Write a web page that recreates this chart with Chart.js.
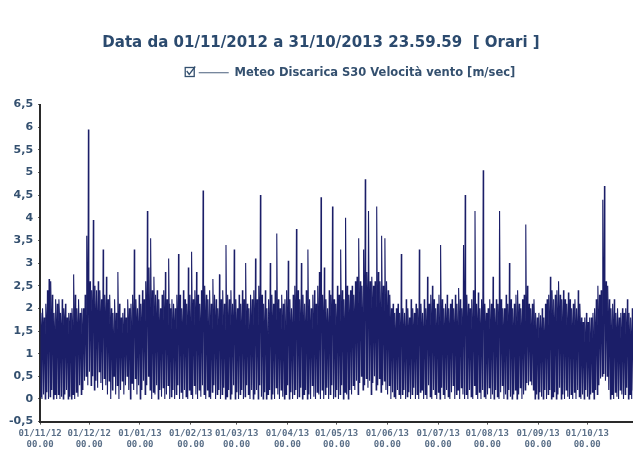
<!DOCTYPE html>
<html>
<head>
<meta charset="utf-8">
<script src="https://cdn.jsdelivr.net/npm/chart.js@4.4.1/dist/chart.umd.min.js"></script>
<style>
  html, body { margin: 0; padding: 0; background: #ffffff; overflow: hidden; }
  #wrap { width: 640px; height: 454px; position: relative; }
</style>
</head>
<body>
<div id="wrap"><canvas id="chart" width="640" height="454"></canvas></div>
<script>
// Hourly wind speed, 01/11/2012 - 31/10/2013, summarised per day (m/sec):
// daily low, daily high, and the level where the bulk of the hours sit
const dayMin = [
  0.05, 0, 0.1, 0, 0.15, 0, 0.05, 0.2, 0, 0.1,
  0, 0.1, 0, 0.05, 0, 0.1, 0.2, 0, 0.05, 0,
  0.1, 0, 0.15, 0.05, 0.3, 0.1, 0.2, 0.4, 0.5, 0.3,
  0.6, 0.3, 0.5, 0.2, 0.4, 0.25, 0.6, 0.35, 0.2, 0.45,
  0.3, 0.1, 0.4, 0, 0.2, 0.5, 0.1, 0.3, 0, 0.2,
  0.4, 0.1, 0.3, 0.5, 0.2, 0, 0.35, 0.2, 0.45, 0.1,
  0.3, 0, 0.2, 0.4, 0.1, 0.3, 0.5, 0.2, 0, 0.15,
  0.1, 0.3, 0, 0.2, 0.05, 0.25, 0, 0.1, 0.3, 0,
  0.05, 0.2, 0, 0.1, 0.3, 0, 0.15, 0, 0.2, 0.05,
  0, 0.2, 0.1, 0, 0.3, 0.1, 0, 0.2, 0.05, 0.3,
  0.1, 0, 0.2, 0.05, 0, 0.15, 0.3, 0, 0.1, 0.2,
  0, 0.1, 0.25, 0, 0.05, 0.2, 0, 0.1, 0.3, 0,
  0.15, 0, 0.1, 0.2, 0, 0.05, 0.3, 0.1, 0, 0.2,
  0, 0.1, 0.2, 0, 0.3, 0.05, 0, 0.15, 0, 0.1,
  0.2, 0, 0.1, 0, 0.25, 0.1, 0, 0.2, 0.05, 0,
  0.1, 0.3, 0, 0.15, 0, 0.1, 0.2, 0, 0.05, 0.25,
  0, 0.1, 0.2, 0, 0.1, 0, 0.3, 0.05, 0, 0.15,
  0.1, 0, 0.2, 0, 0.1, 0.25, 0, 0.1, 0.3, 0,
  0.05, 0.2, 0, 0.1, 0.3, 0, 0.15, 0.1, 0, 0.2,
  0.1, 0.3, 0.2, 0.4, 0.1, 0.35, 0.5, 0.2, 0.3, 0.45,
  0.25, 0.4, 0.1, 0.35, 0.5, 0.2, 0.3, 0.45, 0.15, 0.3,
  0.4, 0.2, 0.1, 0.3, 0, 0.15, 0.05, 0, 0.2, 0.1,
  0, 0.1, 0.2, 0, 0.05, 0.15, 0, 0.1, 0.25, 0,
  0.1, 0, 0.15, 0.2, 0, 0.1, 0, 0.3, 0.05, 0,
  0.2, 0.1, 0, 0.15, 0, 0.25, 0.1, 0, 0.2, 0.05,
  0, 0.15, 0.3, 0, 0.1, 0.2, 0, 0.25, 0.1, 0,
  0.1, 0, 0.2, 0.05, 0, 0.3, 0.1, 0, 0.15, 0,
  0.2, 0.05, 0, 0.1, 0.25, 0, 0.1, 0, 0.2, 0.05,
  0, 0.15, 0.3, 0, 0.1, 0, 0.2, 0.05, 0, 0.1,
  0.2, 0, 0.1, 0.25, 0, 0.1, 0.2, 0.35, 0.3, 0.4,
  0.3, 0.2, 0, 0.1, 0, 0.15, 0.05, 0, 0.2, 0,
  0.1, 0.2, 0, 0.05, 0.15, 0, 0.1, 0.25, 0, 0.1,
  0, 0.2, 0.05, 0, 0.1, 0, 0.15, 0, 0.2, 0.05,
  0, 0.1, 0, 0.2, 0.05, 0, 0.1, 0.15, 0, 0.2,
  0.1, 0.3, 0.45, 0.5, 0.55, 0.4, 0.5, 0.2, 0, 0.1,
  0, 0.15, 0.05, 0, 0.2, 0.1, 0, 0.1, 0.25, 0,
  0.1, 0, 0.2, 0.05, 0
];

const dayMax = [
  1.9, 2.0, 1.8, 2.1, 2.4, 2.65, 2.6, 2.3, 1.9, 2.2,
  2.1, 2.2, 1.9, 2.2, 2.0, 2.1, 1.8, 1.9, 1.9, 2.0,
  2.75, 2.3, 2.0, 2.2, 1.9, 2.0, 2.0, 2.3, 3.6, 5.95,
  2.6, 2.4, 3.95, 2.5, 2.4, 2.6, 2.4, 2.2, 3.3, 2.3,
  2.7, 2.2, 2.3, 2.0, 1.9, 2.2, 1.9, 2.8, 2.1, 1.8,
  1.9, 2.0, 1.8, 2.2, 2.0, 2.1, 2.3, 3.3, 2.2, 2.0,
  2.3, 2.1, 2.4, 2.2, 2.6, 4.15, 2.9, 3.55, 2.4, 2.7,
  2.3, 2.4, 2.2, 2.0, 2.3, 2.4, 2.8, 2.2, 3.1, 2.0,
  2.2, 2.1, 2.0, 2.3, 3.2, 2.3, 2.0, 2.4, 2.2, 2.1,
  2.9, 2.3, 3.25, 2.2, 2.4, 2.8, 2.3, 2.1, 2.4, 4.6,
  2.5, 2.3, 2.2, 2.4, 2.1, 2.65, 2.3, 2.2, 2.0, 2.75,
  2.2, 2.4, 2.1, 3.4, 2.3, 2.2, 2.4, 2.1, 3.3, 2.2,
  2.0, 2.3, 2.1, 2.4, 2.2, 3.0, 2.1, 2.0, 2.3, 2.2,
  2.4, 3.1, 2.2, 2.5, 4.5, 2.3, 2.1, 2.4, 2.0, 2.2,
  3.0, 2.3, 2.1, 2.4, 3.65, 2.2, 2.0, 2.3, 2.1, 2.2,
  2.4, 3.05, 2.2, 2.0, 2.3, 2.5, 3.75, 2.4, 2.2, 3.0,
  2.3, 2.1, 2.4, 3.3, 2.2, 2.0, 2.3, 2.4, 2.1, 2.5,
  2.8, 4.45, 2.3, 2.9, 2.2, 2.0, 2.4, 2.3, 4.25, 2.2,
  2.1, 2.5, 2.3, 3.3, 2.4, 2.2, 4.0, 2.5, 2.3, 2.4,
  2.5, 2.3, 2.6, 2.7, 3.55, 2.6, 2.5, 3.3, 4.85, 2.8,
  4.15, 2.6, 2.7, 2.5, 2.6, 4.25, 2.8, 2.6, 3.6, 2.5,
  3.55, 2.6, 2.4, 2.3, 2.0, 2.1, 1.9, 2.0, 2.1, 1.9,
  3.2, 2.0, 1.9, 2.2, 2.0, 1.8, 2.2, 2.0, 1.9, 2.1,
  2.0, 3.3, 2.1, 1.9, 2.2, 2.0, 2.7, 2.1, 2.3, 2.5,
  2.2, 2.0, 2.1, 2.3, 3.4, 2.2, 2.0, 2.1, 2.3, 2.0,
  2.1, 2.2, 2.0, 2.3, 2.1, 2.45, 2.2, 2.0, 3.4, 4.5,
  2.3, 2.1, 2.0, 2.2, 2.4, 4.15, 2.1, 2.35, 2.0, 2.2,
  5.05, 2.1, 1.9, 2.0, 2.2, 2.1, 2.7, 2.0, 2.2, 2.1,
  4.15, 2.2, 2.0, 2.0, 2.3, 2.1, 3.0, 2.2, 2.0, 2.1,
  2.3, 2.4, 2.1, 2.0, 2.2, 2.3, 3.85, 2.5, 2.1, 2.0,
  2.1, 2.2, 1.9, 1.8, 1.9, 1.85, 2.0, 1.8, 2.1, 2.2,
  2.3, 2.7, 2.4, 2.2, 2.3, 2.4, 2.6, 2.3, 2.2, 2.4,
  2.2, 2.1, 2.35, 2.2, 2.0, 2.1, 2.2, 2.0, 2.4, 2.1,
  1.8, 1.7, 1.8, 1.9, 1.7, 1.8, 1.8, 1.9, 2.0, 2.2,
  2.5, 2.3, 2.4, 4.4, 4.7, 2.6, 2.5, 2.2, 2.0, 2.1,
  2.2, 1.9, 2.0, 1.8, 1.9, 2.0, 1.9, 2.0, 2.2, 1.9,
  1.8, 2.0, 2.1, 1.9, 2.0
];

const dayCore = [
  1.6, 1.7, 1.5, 1.8, 1.9, 2.0, 1.9, 1.8, 1.6, 1.7,
  1.8, 1.9, 1.6, 1.7, 1.8, 1.6, 1.5, 1.7, 1.6, 1.7,
  1.9, 1.8, 1.6, 1.7, 1.5, 1.6, 1.7, 1.9, 2.3, 2.6,
  2.0, 1.9, 2.2, 1.9, 1.8, 2.0, 1.9, 1.8, 2.1, 1.8,
  2.0, 1.7, 1.8, 1.6, 1.5, 1.7, 1.6, 1.9, 1.7, 1.5,
  1.6, 1.7, 1.5, 1.8, 1.6, 1.7, 1.8, 2.1, 1.8, 1.6,
  1.8, 1.7, 1.9, 1.8, 2.0, 2.4, 2.1, 2.2, 1.9, 2.0,
  1.8, 1.9, 1.7, 1.6, 1.8, 1.9, 2.0, 1.7, 2.1, 1.6,
  1.7, 1.7, 1.6, 1.8, 2.0, 1.8, 1.6, 1.9, 1.7, 1.7,
  2.0, 1.8, 2.1, 1.7, 1.9, 2.0, 1.8, 1.7, 1.8, 2.3,
  1.9, 1.8, 1.7, 1.8, 1.6, 1.9, 1.8, 1.7, 1.6, 1.9,
  1.7, 1.8, 1.6, 2.0, 1.8, 1.7, 1.8, 1.6, 2.0, 1.7,
  1.6, 1.8, 1.6, 1.8, 1.7, 1.9, 1.6, 1.5, 1.8, 1.7,
  1.8, 2.0, 1.7, 1.9, 2.3, 1.8, 1.6, 1.8, 1.5, 1.7,
  2.0, 1.8, 1.6, 1.8, 2.1, 1.7, 1.6, 1.8, 1.6, 1.7,
  1.8, 2.0, 1.7, 1.6, 1.8, 1.9, 2.2, 1.8, 1.7, 2.0,
  1.8, 1.6, 1.8, 2.0, 1.7, 1.6, 1.8, 1.9, 1.7, 1.9,
  2.0, 2.4, 1.8, 2.0, 1.7, 1.6, 1.9, 1.8, 2.3, 1.7,
  1.7, 1.9, 1.8, 2.1, 1.9, 1.8, 2.3, 2.0, 1.9, 1.9,
  2.0, 1.9, 2.1, 2.2, 2.3, 2.1, 2.0, 2.2, 2.6, 2.2,
  2.4, 2.1, 2.2, 2.0, 2.1, 2.4, 2.2, 2.1, 2.3, 2.0,
  2.2, 2.0, 1.9, 1.8, 1.6, 1.7, 1.5, 1.6, 1.7, 1.5,
  2.0, 1.6, 1.5, 1.7, 1.6, 1.4, 1.7, 1.6, 1.5, 1.7,
  1.6, 2.0, 1.7, 1.5, 1.7, 1.6, 1.9, 1.7, 1.8, 1.9,
  1.7, 1.6, 1.7, 1.8, 2.0, 1.7, 1.6, 1.7, 1.8, 1.6,
  1.7, 1.8, 1.6, 1.8, 1.7, 1.9, 1.7, 1.6, 2.0, 2.3,
  1.8, 1.7, 1.6, 1.7, 1.9, 2.2, 1.7, 1.8, 1.6, 1.7,
  2.4, 1.7, 1.5, 1.6, 1.7, 1.7, 1.9, 1.6, 1.7, 1.7,
  2.2, 1.7, 1.6, 1.6, 1.8, 1.7, 1.9, 1.7, 1.6, 1.7,
  1.8, 1.9, 1.7, 1.6, 1.7, 1.8, 2.1, 1.9, 1.7, 1.6,
  1.7, 1.7, 1.5, 1.4, 1.5, 1.5, 1.6, 1.4, 1.7, 1.7,
  1.8, 2.0, 1.9, 1.7, 1.8, 1.9, 2.0, 1.8, 1.7, 1.9,
  1.7, 1.7, 1.8, 1.7, 1.6, 1.7, 1.7, 1.6, 1.9, 1.7,
  1.4, 1.3, 1.4, 1.5, 1.3, 1.4, 1.4, 1.5, 1.6, 1.7,
  1.9, 1.8, 1.9, 2.3, 2.4, 2.0, 1.9, 1.7, 1.6, 1.7,
  1.7, 1.5, 1.6, 1.4, 1.5, 1.6, 1.5, 1.6, 1.7, 1.5,
  1.4, 1.6, 1.7, 1.5, 1.6
];

// First day of each month, as day offsets from 01/11/2012
const monthStarts = [0, 30, 61, 92, 120, 151, 181, 212, 243, 273, 304, 334];
const monthLabels = ['01/11/12', '01/12/12', '01/01/13', '01/02/13', '01/03/13', '01/04/13',
                     '01/05/13', '01/06/13', '01/07/13', '01/08/13', '01/09/13', '01/10/13'];
const timeLabel = '00.00';

const seriesName = 'Meteo Discarica S30 Velocità vento [m/sec]';
const titleText = 'Data da 01/11/2012 a 31/10/2013 23.59.59  [ Orari ]';

const lineColor = '#1b1e68';
const textColor = '#34506f';

// each day traced low -> high -> bulk level, then on to the next day's low
const points = [];
for (let d = 0; d < dayMax.length; d++) {
  points.push({ x: d + 0.15, y: dayMin[d] });
  points.push({ x: d + 0.5, y: dayMax[d] });
  points.push({ x: d + 0.8, y: dayCore[d] });
}

// legend: shifted right of centre, extra room below it, tick box before the entry
const legendTweaks = {
  id: 'legendTweaks',
  beforeInit(chart) {
    const lg = chart.legend;
    if (!lg) return;
    const fit = lg.fit;
    lg.fit = function () {
      fit.call(this);
      this.height += 16;
    };
  },
  afterLayout(chart) {
    const lg = chart.legend;
    if (!lg) return;
    lg.left += 36;
    lg.right += 36;
  },
  afterDraw(chart) {
    const lg = chart.legend;
    if (!lg || !lg.legendHitBoxes || !lg.legendHitBoxes.length) return;
    const hb = lg.legendHitBoxes[0];
    const ctx = chart.ctx;
    const s = 9;
    const x = hb.left - 14;
    const y = Math.round(hb.top + hb.height / 2 - s / 2) - 1;
    ctx.save();
    ctx.strokeStyle = textColor;
    ctx.lineWidth = 1.3;
    ctx.strokeRect(x + 0.5, y + 0.5, s, s);
    ctx.beginPath();
    ctx.moveTo(x + 2, y + 4);
    ctx.lineTo(x + 4.5, y + 7.5);
    ctx.lineTo(x + 10.5, y - 0.5);
    ctx.stroke();
    ctx.restore();
  }
};

new Chart(document.getElementById('chart'), {
  type: 'line',
  data: {
    datasets: [{
      label: seriesName,
      data: points,
      borderColor: lineColor,
      backgroundColor: lineColor,
      borderWidth: 1.1,
      pointRadius: 0,
      tension: 0,
      fill: false
    }]
  },
  options: {
    responsive: false,
    animation: false,
    events: [],
    layout: { padding: { left: 4, right: 2, top: 0, bottom: 0 } },
    plugins: {
      title: {
        display: true,
        text: titleText,
        color: '#2b4a6e',
        font: { family: 'DejaVu Sans', size: 15, weight: 'bold' },
        padding: { top: 34, bottom: 7 }
      },
      legend: {
        display: true,
        position: 'top',
        labels: {
          color: textColor,
          font: { family: 'DejaVu Sans', size: 11.5, weight: 'bold' },
          boxWidth: 30,
          boxHeight: 1,
          padding: 8,
          generateLabels() {
            return [{
              text: seriesName,
              fillStyle: '#4a5f7c',
              strokeStyle: '#4a5f7c',
              lineWidth: 0,
              hidden: false,
              datasetIndex: 0,
              fontColor: textColor
            }];
          }
        }
      },
      tooltip: { enabled: false }
    },
    scales: {
      x: {
        type: 'linear',
        min: 0,
        max: 365,
        afterBuildTicks(scale) {
          scale.ticks = monthStarts.map(v => ({ value: v }));
        },
        ticks: {
          autoSkip: false,
          maxRotation: 0,
          color: '#5a6f88',
          padding: 3,
          font: { family: 'DejaVu Sans Mono', size: 9, weight: 'bold', lineHeight: 1.3 },
          callback(value) {
            const i = monthStarts.indexOf(value);
            return i >= 0 ? [monthLabels[i], timeLabel] : '';
          }
        },
        grid: { drawOnChartArea: false, drawTicks: true, tickLength: 3, color: '#555' },
        border: { color: '#2a2a2a', width: 2 }
      },
      y: {
        min: -0.5,
        max: 6.5,
        ticks: {
          stepSize: 0.5,
          color: textColor,
          padding: 5,
          font: { family: 'DejaVu Sans', size: 11, weight: 'bold' },
          callback(value) {
            return String(value).replace('.', ',');
          }
        },
        grid: { drawOnChartArea: false, drawTicks: true, tickLength: 2, color: '#555' },
        border: { color: '#2a2a2a', width: 2 }
      }
    }
  },
  plugins: [legendTweaks]
});
</script>
</body>
</html>
